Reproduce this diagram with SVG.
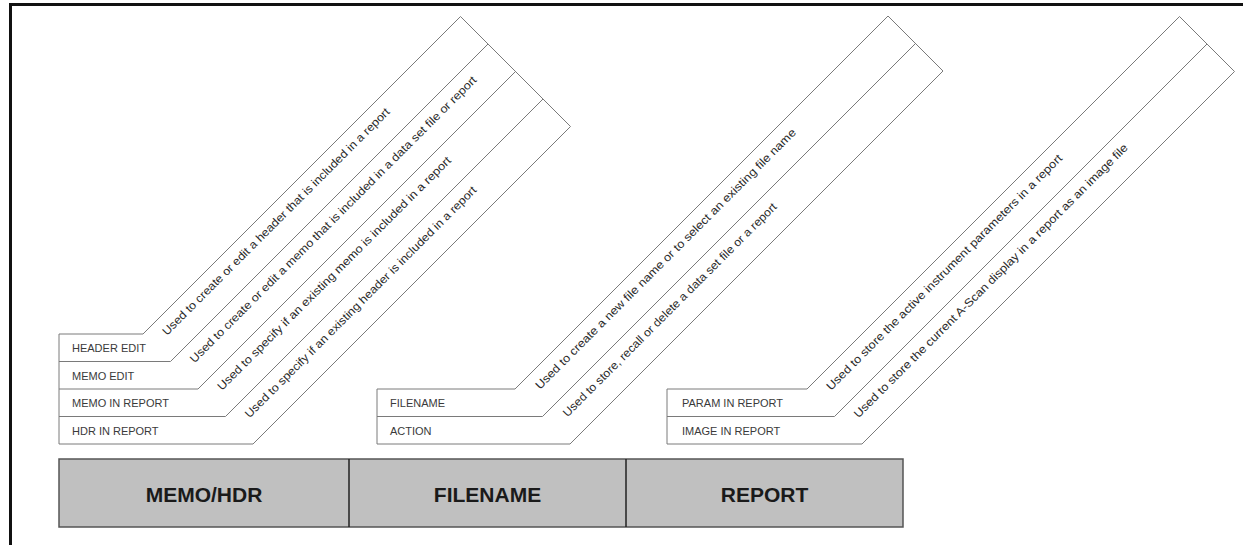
<svg xmlns="http://www.w3.org/2000/svg" width="1243" height="545" viewBox="0 0 1243 545">
<style>
.frame{fill:none;stroke:#111;stroke-width:3}
.band{fill:#fff;stroke:#7a7a7a;stroke-width:1;stroke-linejoin:round}
.sep{fill:none;stroke:#7a7a7a;stroke-width:1}
.lbl{font-family:"Liberation Sans",Arial,sans-serif;font-size:11px;fill:#3a3a3a}
.desc{font-family:"Liberation Sans",Arial,sans-serif;font-size:11.5px;fill:#2a2a2a}
.box{fill:#c0c0c0;stroke:#555;stroke-width:1.5}
.div{stroke:#222;stroke-width:1.5}
.title{font-family:"Liberation Sans",Arial,sans-serif;font-size:21px;font-weight:bold;fill:#1a1a1a;text-anchor:middle}
</style>
<rect width="1243" height="545" fill="#fff"/>
<g id="frame">
<path class="frame" d="M10.5,545 V4.5 H1243"/>
</g>
<g id="memo-hdr-callouts">
<path class="band" d="M59,334 H143 L460.5,16.5 L570.5,126.5 L253,444 H59 Z"/>
<path class="sep" d="M59,361.5 H170.5 L488,44 M59,389 H198 L515.5,71.5 M59,416.5 H225.5 L543,99"/>
<text class="lbl" x="72" y="352">HEADER EDIT</text>
<text class="lbl" x="72" y="379.5">MEMO EDIT</text>
<text class="lbl" x="72" y="407">MEMO IN REPORT</text>
<text class="lbl" x="72" y="434.5">HDR IN REPORT</text>
<text class="desc" transform="translate(167,336) rotate(-45)" textLength="316" lengthAdjust="spacingAndGlyphs">Used to create or edit a header that is included in a report</text>
<text class="desc" transform="translate(194.5,363.5) rotate(-45)" textLength="400" lengthAdjust="spacingAndGlyphs">Used to create or edit a memo that is included in a data set file or report</text>
<text class="desc" transform="translate(222,391) rotate(-45)" textLength="325" lengthAdjust="spacingAndGlyphs">Used to specify if an existing memo is included in a report</text>
<text class="desc" transform="translate(249.5,418.5) rotate(-45)" textLength="322" lengthAdjust="spacingAndGlyphs">Used to specify if an existing header is included in a report</text>
</g>
<g id="filename-callouts">
<path class="band" d="M377,389 H515 L888,16 L943,71 L570,444 H377 Z"/>
<path class="sep" d="M377,416.5 H542.5 L915.5,43.5"/>
<text class="lbl" x="390" y="407">FILENAME</text>
<text class="lbl" x="390" y="434.5">ACTION</text>
<text class="desc" transform="translate(540,390) rotate(-45)" textLength="363" lengthAdjust="spacingAndGlyphs">Used to create a new file name or to select an existing file name</text>
<text class="desc" transform="translate(567.5,417.5) rotate(-45)" textLength="297" lengthAdjust="spacingAndGlyphs">Used to store, recall or delete a data set file or a report</text>
</g>
<g id="report-callouts">
<path class="band" d="M667,389 H807 L1179.5,16.5 L1234.5,71.5 L862,444 H667 Z"/>
<path class="sep" d="M667,416.5 H834.5 L1207,44"/>
<text class="lbl" x="682" y="407">PARAM IN REPORT</text>
<text class="lbl" x="682" y="434.5">IMAGE IN REPORT</text>
<text class="desc" transform="translate(831,391) rotate(-45)" textLength="328" lengthAdjust="spacingAndGlyphs">Used to store the active instrument parameters in a report</text>
<text class="desc" transform="translate(858.5,418.5) rotate(-45)" textLength="382" lengthAdjust="spacingAndGlyphs">Used to store the current A-Scan display in a report as an image file</text>
</g>
<g id="menu-bar">
<rect class="box" x="59" y="459" width="844" height="68"/>
<line class="div" x1="349" y1="459" x2="349" y2="527"/>
<line class="div" x1="626" y1="459" x2="626" y2="527"/>
</g>
<g id="node-memo-hdr"><text class="title" x="204" y="502">MEMO/HDR</text></g>
<g id="node-filename"><text class="title" x="487.5" y="502">FILENAME</text></g>
<g id="node-report"><text class="title" x="764.5" y="502">REPORT</text></g>
</svg>
